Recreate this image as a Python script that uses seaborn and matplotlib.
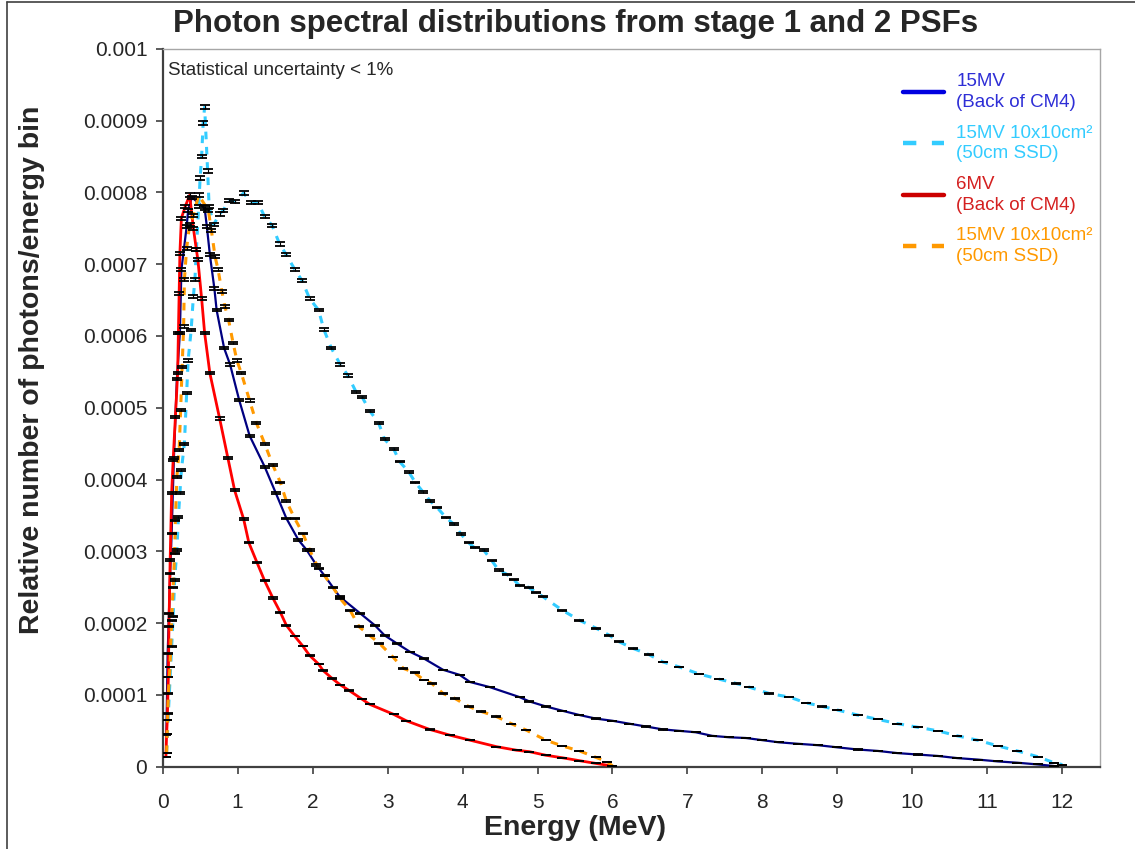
import numpy as np
import pandas as pd
import matplotlib
matplotlib.use("Agg")
import matplotlib.pyplot as plt
from matplotlib.lines import Line2D
import seaborn as sns

# ---------------- data (values in units of 1e-4) ----------------
e_15_cm4 = [0.05, 0.067, 0.084, 0.10, 0.12, 0.15, 0.19, 0.23, 0.25, 0.32, 0.34, 0.39, 0.56, 0.59,
            0.63, 0.69, 0.72, 0.82, 0.90, 1.02, 1.16, 1.36, 1.51, 1.65, 1.81, 1.92, 2.05, 2.16,
            2.36, 2.63, 2.83, 2.96, 3.12, 3.30, 3.48, 3.74, 3.96, 4.10, 4.36, 4.76, 4.89, 5.11,
            5.33, 5.56, 5.78, 6.00, 6.22, 6.45, 6.67, 6.89, 7.11, 7.33, 7.56, 7.78, 8.00, 8.22,
            8.47, 8.74, 9.00, 9.27, 9.54, 9.80, 10.07, 10.34, 10.60, 10.87, 11.14, 11.40, 11.67, 11.89]
v_15_cm4 = [0.45, 1.58, 2.14, 2.69, 3.25, 4.30, 5.40, 6.04, 6.92, 7.52, 7.75, 7.93, 7.78, 7.52,
            7.13, 6.66, 6.36, 5.83, 5.60, 5.11, 4.61, 4.18, 3.81, 3.46, 3.16, 3.02, 2.81, 2.66,
            2.37, 2.14, 1.97, 1.83, 1.72, 1.60, 1.51, 1.35, 1.28, 1.18, 1.11, 0.97, 0.91, 0.84,
            0.78, 0.72, 0.67, 0.64, 0.60, 0.56, 0.52, 0.50, 0.48, 0.43, 0.41, 0.40, 0.37, 0.34,
            0.32, 0.30, 0.27, 0.24, 0.22, 0.19, 0.17, 0.15, 0.12, 0.10, 0.074, 0.056, 0.032, 0.01]

e_15_ssd = [0.053, 0.076, 0.12, 0.14, 0.16, 0.19, 0.21, 0.23, 0.25, 0.29, 0.32, 0.34, 0.38, 0.41,
            0.43, 0.45, 0.48, 0.50, 0.52, 0.54, 0.56, 0.60, 0.62, 0.68, 0.76, 0.81, 0.88, 0.96,
            1.08, 1.18, 1.27, 1.36, 1.46, 1.56, 1.65, 1.76, 1.86, 1.96, 2.08, 2.15, 2.25, 2.37,
            2.47, 2.58, 2.66, 2.76, 2.88, 2.96, 3.08, 3.16, 3.28, 3.37, 3.47, 3.57, 3.66, 3.78,
            3.88, 3.98, 4.08, 4.16, 4.28, 4.39, 4.48, 4.59, 4.68, 4.76, 4.88, 4.98, 5.07, 5.33,
            5.56, 5.78, 5.96, 6.09, 6.27, 6.49, 6.67, 6.89, 7.16, 7.42, 7.65, 7.82, 8.09, 8.36,
            8.58, 8.80, 9.00, 9.27, 9.54, 9.80, 10.07, 10.34, 10.60, 10.87, 11.14, 11.40, 11.67,
            11.89, 12.00]
v_15_ssd = [0.19, 0.74, 1.67, 2.09, 2.60, 3.02, 3.48, 3.81, 4.13, 4.50, 5.20, 5.66, 6.08, 6.55,
            6.78, 7.20, 7.80, 8.20, 8.50, 8.96, 9.19, 8.30, 7.80, 7.55, 7.70, 7.75, 7.89, 7.87,
            7.99, 7.86, 7.86, 7.66, 7.54, 7.28, 7.13, 6.93, 6.77, 6.52, 6.36, 6.09, 5.83, 5.60,
            5.45, 5.22, 5.15, 4.96, 4.79, 4.56, 4.43, 4.25, 4.11, 3.96, 3.83, 3.70, 3.61, 3.47,
            3.38, 3.24, 3.12, 3.05, 3.02, 2.87, 2.74, 2.68, 2.61, 2.52, 2.50, 2.43, 2.37, 2.18,
            2.04, 1.93, 1.83, 1.74, 1.65, 1.56, 1.46, 1.39, 1.29, 1.22, 1.16, 1.11, 1.02, 0.97,
            0.89, 0.84, 0.79, 0.72, 0.66, 0.60, 0.55, 0.50, 0.43, 0.37, 0.29, 0.22, 0.14,
            0.056, 0.03]

e_6_cm4 = [0.044, 0.053, 0.062, 0.076, 0.084, 0.10, 0.12, 0.14, 0.17, 0.20, 0.21, 0.22, 0.23, 0.25,
           0.30, 0.36, 0.41, 0.45, 0.47, 0.52, 0.56, 0.63, 0.76, 0.87, 0.96, 1.08, 1.15, 1.26,
           1.36, 1.47, 1.57, 1.65, 1.76, 1.87, 1.96, 2.08, 2.14, 2.26, 2.37, 2.49, 2.66, 2.76,
           3.08, 3.25, 3.56, 3.83, 4.10, 4.45, 4.72, 4.89, 5.11, 5.33, 5.56, 5.78, 6.00]
v_6_cm4 = [0.14, 0.46, 0.65, 1.25, 1.95, 2.88, 3.81, 4.27, 4.87, 5.48, 6.04, 6.59, 7.15, 7.64,
           7.80, 7.96, 7.50, 7.20, 7.06, 6.52, 6.04, 5.48, 4.85, 4.30, 3.85, 3.45, 3.12, 2.84,
           2.59, 2.35, 2.15, 1.97, 1.82, 1.68, 1.55, 1.43, 1.34, 1.23, 1.14, 1.06, 0.94, 0.87,
           0.73, 0.64, 0.52, 0.44, 0.37, 0.28, 0.23, 0.21, 0.16, 0.125, 0.084, 0.046, 0.01]

e_15_ssd_b = [0.053, 0.076, 0.098, 0.12, 0.14, 0.16, 0.17, 0.19, 0.22, 0.24, 0.26, 0.28, 0.29, 0.32,
              0.36, 0.41, 0.48, 0.61, 0.65, 0.70, 0.74, 0.79, 0.83, 0.88, 0.94, 0.99, 1.05, 1.16,
              1.25, 1.36, 1.47, 1.57, 1.65, 1.76, 1.87, 1.96, 2.08, 2.16, 2.27, 2.37, 2.50, 2.62,
              2.76, 2.89, 3.07, 3.21, 3.36, 3.48, 3.59, 3.74, 3.90, 4.08, 4.25, 4.45, 4.65, 4.85,
              5.11, 5.33, 5.56, 5.78, 5.93, 6.00]
v_15_ssd_b = [0.19, 1.02, 1.39, 2.04, 2.50, 2.97, 3.43, 4.04, 4.41, 4.97, 5.57, 6.13, 6.78, 7.22,
              7.55, 7.68, 7.96, 7.75, 7.47, 7.10, 6.92, 6.62, 6.41, 6.22, 5.90, 5.66, 5.48, 5.10,
              4.79, 4.50, 4.20, 3.96, 3.70, 3.46, 3.25, 3.02, 2.76, 2.66, 2.50, 2.34, 2.18, 1.95,
              1.83, 1.72, 1.53, 1.37, 1.31, 1.21, 1.16, 1.02, 0.95, 0.84, 0.77, 0.70, 0.60, 0.51,
              0.37, 0.29, 0.22, 0.13, 0.07, 0.01]

series_labels = ["15MV\n(Back of CM4)", "15MV 10x10cm\u00b2\n(50cm SSD)",
                 "6MV\n(Back of CM4)", "15MV 10x10cm\u00b2\n(50cm SSD)"]
x_ticks = list(range(0, 13))
y_ticks = [0, 0.0001, 0.0002, 0.0003, 0.0004, 0.0005, 0.0006, 0.0007, 0.0008, 0.0009, 0.001]
y_tick_labels = ["0", "0.0001", "0.0002", "0.0003", "0.0004", "0.0005",
                 "0.0006", "0.0007", "0.0008", "0.0009", "0.001"]
title = "Photon spectral distributions from stage 1 and 2 PSFs"
xlabel = "Energy (MeV)"
ylabel = "Relative number of photons/energy bin"
note = "Statistical uncertainty < 1%"

# ---------------- style ----------------
sns.set_style("white")
plt.rcParams["font.family"] = ["Liberation Sans", "DejaVu Sans"]

fig = plt.figure(figsize=(11.35, 8.49), dpi=100)
ax = fig.add_axes([0.1433, 0.0969, 0.8257, 0.8457])

line_colors = ["#000080", "#33CCFF", "#FF0000", "#FF9900"]
legend_colors = ["#0000E0", "#33CCFF", "#CC0000", "#FF9900"]
text_colors = ["#2E2ED6", "#33CCFF", "#D42020", "#FF9900"]
widths = [1.6, 2.2, 2.0, 2.2]
dashed = [False, True, False, True]

all_series = [(e_15_cm4, v_15_cm4), (e_15_ssd, v_15_ssd), (e_6_cm4, v_6_cm4), (e_15_ssd_b, v_15_ssd_b)]
for i, (e, v) in enumerate(all_series):
    df = pd.DataFrame({"E": e, "V": np.array(v) * 1e-4})
    sns.lineplot(data=df, x="E", y="V", color=line_colors[i], lw=widths[i], ax=ax,
                 sort=False, estimator=None, zorder=3)
    ln = ax.get_lines()[-1]
    if dashed[i]:
        ln.set_dashes((2.5, 2.5))

for i, (e, v) in enumerate(all_series):
    vv = np.array(v) * 1e-4
    ax.errorbar(e, vv, yerr=0.003 * vv, fmt="none", ecolor="black", elinewidth=0.8,
                capsize=3.8, capthick=1.3, zorder=4)

ax.set_xlim(0, 12.5)
ax.set_ylim(0, 0.001)
ax.set_xticks(x_ticks)
ax.set_xticklabels([str(t) for t in x_ticks])
ax.set_yticks(y_ticks)
ax.set_yticklabels(y_tick_labels)
ax.set_xlabel("")
ax.set_ylabel("")

for s in ["left", "bottom"]:
    ax.spines[s].set_color("#404040")
    ax.spines[s].set_linewidth(1.6)
for s in ["top", "right"]:
    ax.spines[s].set_color("#A6A6A6")
    ax.spines[s].set_linewidth(1.0)

ax.tick_params(axis="x", direction="out", length=5, width=1.2, color="#404040",
               labelsize=15, pad=14, bottom=True, top=False)
ax.tick_params(axis="y", direction="out", length=5, width=1.2, color="#404040",
               labelsize=15, pad=6, left=True, right=False)

ax.text(0.006, 0.970, note, transform=ax.transAxes, fontsize=13.5, ha="left", va="center")

handles = []
for i in range(4):
    h = Line2D([0], [0], color=legend_colors[i], lw=3.2)
    if dashed[i]:
        h.set_dashes((3, 3.5))
    handles.append(h)
leg = ax.legend(handles, series_labels, loc="upper left", bbox_to_anchor=(0.79, 0.966),
                frameon=False, fontsize=13.5, handlelength=2.2, handletextpad=0.65,
                labelspacing=0.72, borderaxespad=0, borderpad=0)
for t, c in zip(leg.get_texts(), text_colors):
    t.set_color(c)
    t.set_linespacing(1.3)

fig.text(0.507, 0.972, title, ha="center", va="center", fontsize=22.5, fontweight="bold")
fig.text(0.507, 0.025, xlabel, ha="center", va="center", fontsize=20.5, fontweight="bold")
fig.text(0.028, 0.564, ylabel, ha="center", va="center", rotation=90, fontsize=20.5,
         fontweight="bold")

# outer frame
fig.add_artist(Line2D([0.0066, 0.0066], [0, 0.998], transform=fig.transFigure, color="#404040", lw=1.2))
fig.add_artist(Line2D([0.0066, 1.0], [0.998, 0.998], transform=fig.transFigure, color="#404040", lw=1.2))

fig.savefig("out.png", dpi=100)
